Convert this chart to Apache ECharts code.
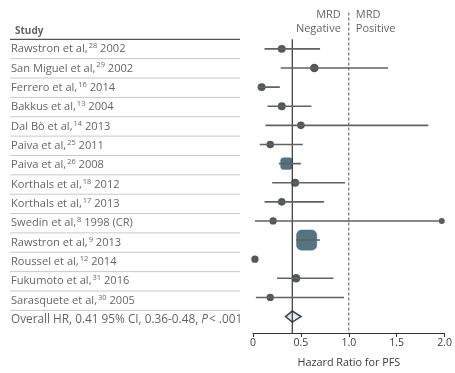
<!DOCTYPE html>
<html><head><meta charset="utf-8">
<script src="https://cdn.jsdelivr.net/npm/echarts@6/dist/echarts.min.js"></script>
<style>html,body{margin:0;padding:0;background:#fff;}#c{width:455px;height:373px;}</style>
</head><body><div id="c"></div>
<script>
// ---- data ----
var studies = ['Rawstron et al,', 'San Miguel et al,', 'Ferrero et al,', 'Bakkus et al,', 'Dal Bò et al,', 'Paiva et al,', 'Paiva et al,', 'Korthals et al,', 'Korthals et al,', 'Swedin et al,', 'Rawstron et al,', 'Roussel et al,', 'Fukumoto et al,', 'Sarasquete et al,'];
var refs = ['28', '29', '16', '13', '14', '25', '26', '18', '17', '8', '9', '12', '31', '30'];
var years = ['2002', '2002', '2014', '2004', '2013', '2011', '2008', '2012', '2013', '1998 (CR)', '2013', '2014', '2016', '2005'];
var hr = [0.30, 0.64, 0.09, 0.30, 0.50, 0.18, 0.35, 0.44, 0.30, 0.21, 0.56, 0.02, 0.45, 0.18];
var ciLow = [0.12, 0.29, 0.05, 0.15, 0.13, 0.07, 0.27, 0.20, 0.12, 0.02, 0.45, 0.01, 0.25, 0.03];
var ciHigh = [0.70, 1.41, 0.28, 0.61, 1.83, 0.52, 0.50, 0.96, 0.74, 1.97, 0.70, 0.03, 0.84, 0.95];
var weights = [3, 4, 3, 3, 2.5, 2.5, 9, 3, 2.5, 2, 22, 2, 4, 2];
var overallLabel = 'Overall HR, 0.41 95% CI, 0.36-0.48, P < .001';
var overallHR = 0.41, overallLow = 0.36, overallHigh = 0.48;
var xTicks = ['0', '0.5', '1.0', '1.5', '2.0'];
var xName = 'Hazard Ratio for PFS';
var headerText = 'Study';

// ---- build ----
var n = studies.length;
var nRows = n + 1;
var yMin = 0.5, yMax = nRows + 0.86;
var FONT = '"Open Sans", "Liberation Sans", sans-serif';
var TXT = '#3c3c3c';
var FS = 11.1;

function sizeOf(w) { return 6 + w * 0.65; }

var markerData = [], squareData = [];
for (var i = 0; i < n; i++) {
  var s = sizeOf(weights[i]);
  if (weights[i] >= 8) squareData.push({ value: [hr[i], i + 1], symbolSize: s });
  else markerData.push({ value: [hr[i], i + 1], symbolSize: s });
}
var ciLines = [];
for (var i = 0; i < n; i++) {
  ciLines.push([ciLow[i], i + 1]); ciLines.push([ciHigh[i], i + 1]); ciLines.push('-');
}
var endDots = [];
for (var i = 0; i < n; i++) if (ciHigh[i] > 1.9) endDots.push([ciHigh[i], i + 1]);

var labelData = [];
for (var i = 0; i < n; i++) labelData.push({ value: [0, i + 1], name: '{t|' + studies[i] + '}{s|' + refs[i] + '}{t| ' + years[i] + '}' });
labelData.push({ value: [0, nRows], name: '{o|' + overallLabel.replace('P <', '}{i|P}{o|<') + '}' });

var sepLines = [];
for (var k = 1; k < nRows; k++) { sepLines.push([0, k + 0.5]); sepLines.push([1, k + 0.5]); sepLines.push('-'); }

var chart = echarts.init(document.getElementById('c'), null, { renderer: 'canvas' });
chart.setOption({
  animation: false,
  textStyle: { fontFamily: FONT },
  grid: [
    { left: 253, right: 8, top: 39.3, height: 297.4 },
    { left: 10, width: 230, top: 39.3, height: 297.4 }
  ],
  xAxis: [
    { gridIndex: 0, type: 'value', min: 0, max: 2, interval: 0.5,
      axisLine: { show: true, lineStyle: { color: '#333', width: 1 } },
      axisTick: { show: true, length: 4, lineStyle: { color: '#333' } },
      splitLine: { show: false },
      axisLabel: { color: TXT, fontSize: 10.5, fontFamily: FONT, margin: 5, formatter: function (v) { return xTicks[Math.round(v / 0.5)]; } },
      name: xName, nameLocation: 'middle', nameGap: 24,
      nameTextStyle: { color: TXT, fontSize: 10.8, fontFamily: FONT } },
    { gridIndex: 1, type: 'value', min: 0, max: 1, show: false }
  ],
  yAxis: [
    { gridIndex: 0, type: 'value', min: yMin, max: yMax, inverse: true, show: false },
    { gridIndex: 1, type: 'value', min: yMin, max: yMax, inverse: true, show: false }
  ],
  series: [
    { type: 'line', xAxisIndex: 1, yAxisIndex: 1, data: sepLines, symbol: 'none', silent: true,
      lineStyle: { color: '#c8c8c8', width: 1 }, connectNulls: false },
    { type: 'line', xAxisIndex: 1, yAxisIndex: 1, data: [[0, yMin], [1, yMin]], symbol: 'none', silent: true, clip: false,
      lineStyle: { color: '#555', width: 1.2 } },
    { type: 'scatter', xAxisIndex: 1, yAxisIndex: 1, data: [[0, yMin]], symbolSize: 0, clip: false,
      label: { show: true, position: 'insideBottomLeft', formatter: headerText, offset: [0, 2], color: TXT, fontSize: 10, fontWeight: 'bold', fontFamily: FONT, align: 'left', verticalAlign: 'bottom' } },
    { type: 'scatter', xAxisIndex: 1, yAxisIndex: 1, data: labelData, symbolSize: 0,
      label: { show: true, position: 'right', distance: 1, formatter: '{b}', color: TXT,
        rich: { t: { fontSize: FS, color: TXT, fontFamily: FONT }, o: { fontSize: 11.8, color: TXT, fontFamily: FONT }, s: { fontSize: 7.5, color: TXT, fontFamily: FONT, verticalAlign: 'top', padding: [0, 0, 6, 1] }, i: { fontSize: 11.8, color: TXT, fontStyle: 'italic', fontFamily: FONT, padding: [0, 1, 0, 0] } } } },
    { type: 'line', data: [[1, -0.9], [1, yMax]], symbol: 'none', clip: false, silent: true,
      lineStyle: { color: '#555', width: 1, type: [3, 2] } },
    { type: 'line', data: [[overallHR, yMin], [overallHR, yMax]], symbol: 'none', clip: false, silent: true,
      lineStyle: { color: '#333', width: 1.2 } },
    { type: 'scatter', data: [[1, -0.4]], symbolSize: 0, clip: false,
      label: { show: true, position: 'left', distance: 8, formatter: 'MRD\nNegative', align: 'right', color: TXT, fontSize: 11, lineHeight: 14, fontFamily: FONT } },
    { type: 'scatter', data: [[1, -0.4]], symbolSize: 0, clip: false,
      label: { show: true, position: 'right', distance: 7, formatter: 'MRD\nPositive', align: 'left', color: TXT, fontSize: 11, lineHeight: 14, fontFamily: FONT } },
    { type: 'line', data: ciLines, symbol: 'none', connectNulls: false, silent: true,
      lineStyle: { color: '#626262', width: 1.6 } },
    { type: 'scatter', data: endDots, symbol: 'circle', symbolSize: 6, itemStyle: { color: '#2a3338' } },
    { type: 'scatter', data: markerData, symbol: 'circle', itemStyle: { color: '#222d33' } },
    { type: 'scatter', data: squareData, symbol: 'roundRect', itemStyle: { color: '#2b5064', borderColor: '#3f6a80', borderWidth: 0.5 } },
    { type: 'custom', data: [[overallHR, nRows, overallLow, overallHigh]],
      renderItem: function (params, api) {
        var c = api.coord([api.value(0), api.value(1)]);
        var l = api.coord([api.value(2), api.value(1)]);
        var r = api.coord([api.value(3), api.value(1)]);
        var h = 5.5;
        return { type: 'polygon', shape: { points: [[l[0] - 2, c[1]], [c[0], c[1] - h], [r[0] + 2, c[1]], [c[0], c[1] + h]] },
          style: { fill: '#e6eaec', stroke: '#3a4a52', lineWidth: 1.6 } };
      } }
  ]
});
</script></body></html>
